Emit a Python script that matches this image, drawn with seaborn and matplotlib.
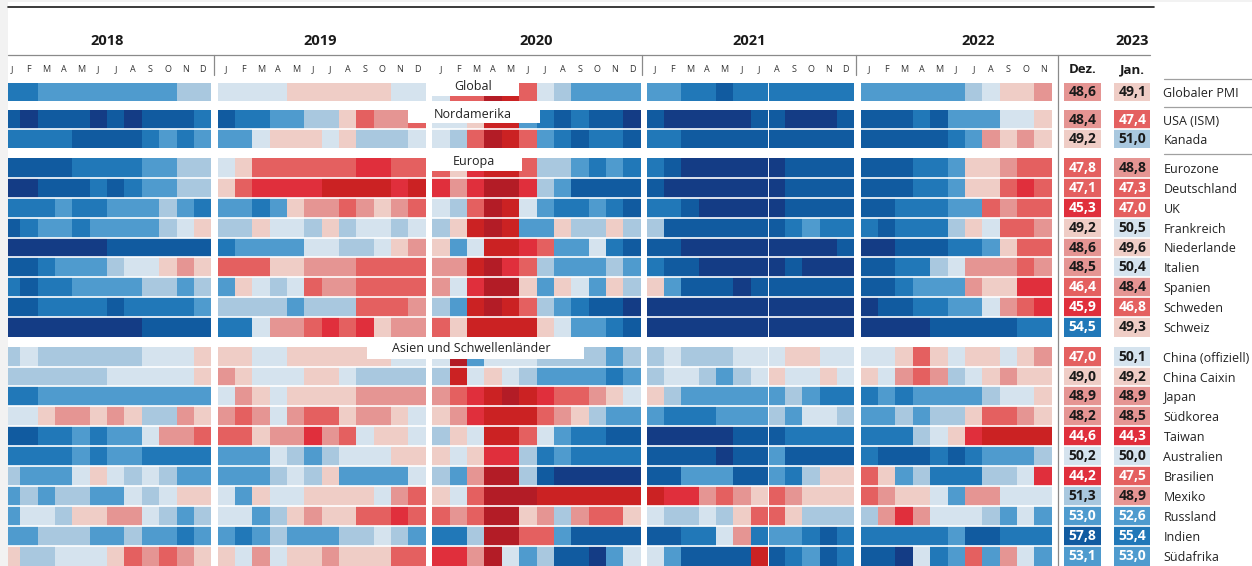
import numpy as np
import seaborn as sns
import matplotlib.pyplot as plt
from matplotlib.colors import ListedColormap, BoundaryNorm
from matplotlib.lines import Line2D
from matplotlib.patches import Rectangle

W, H = 1252, 566

sns.set_theme(style="white")
plt.rcParams['font.family'] = ['Open Sans', 'DejaVu Sans']

countries = ["Globaler PMI", "USA (ISM)", "Kanada", "Eurozone", "Deutschland", "UK", "Frankreich",
             "Niederlande", "Italien", "Spanien", "Schweden", "Schweiz", "China (offiziell)",
             "China Caixin", "Japan", "Südkorea", "Taiwan", "Australien", "Brasilien", "Mexiko",
             "Russland", "Indien", "Südafrika"]
years = ["2018", "2019", "2020", "2021", "2022"]
months = list("JFMAMJJASOND")

# geschaetzte PMI-Werte je Monat, Zeilen wie in countries
pmi_2018 = [
    [55, 55, 53, 53, 53, 53, 53, 53, 53, 53, 51.5, 51.5],
    [58, 62, 58, 58, 58, 62, 58, 62, 58, 58, 58, 55],
    [55, 55, 55, 55, 58, 58, 58, 58, 55, 53, 55, 53],
    [58, 58, 58, 58, 55, 55, 55, 55, 53, 53, 51.5, 51.5],
    [62, 62, 58, 58, 58, 55, 58, 55, 53, 53, 51.5, 51.5],
    [55, 55, 55, 53, 55, 55, 53, 53, 53, 51.5, 53, 55],
    [58, 55, 53, 53, 55, 53, 53, 53, 53, 51.5, 50.5, 49.5],
    [62, 62, 62, 62, 62, 62, 58, 58, 58, 58, 58, 58],
    [58, 58, 55, 53, 53, 53, 51.5, 50.5, 50.5, 49.5, 48.5, 49.5],
    [55, 58, 55, 55, 53, 53, 53, 53, 51.5, 51.5, 53, 51.5],
    [58, 58, 55, 55, 55, 55, 58, 55, 55, 55, 55, 53],
    [62, 62, 62, 62, 62, 62, 62, 62, 58, 58, 58, 58],
    [51.5, 50.5, 51.5, 51.5, 51.5, 51.5, 51.5, 51.5, 50.5, 50.5, 50.5, 49.5],
    [51.5, 51.5, 51.5, 51.5, 51.5, 51.5, 50.5, 50.5, 50.5, 50.5, 50.5, 49.5],
    [55, 55, 53, 53, 53, 53, 53, 53, 53, 53, 53, 53],
    [50.5, 50.5, 49.5, 48.5, 48.5, 49.5, 48.5, 49.5, 51.5, 51.5, 48.5, 49.5],
    [58, 58, 55, 55, 53, 55, 53, 53, 50.5, 48.5, 48.5, 47],
    [55, 55, 55, 55, 53, 55, 53, 53, 55, 55, 55, 55],
    [51.5, 53, 53, 53, 50.5, 49.5, 50.5, 51.5, 50.5, 51.5, 53, 53],
    [53, 51.5, 53, 51.5, 51.5, 53, 53, 50.5, 51.5, 50.5, 49.5, 49.5],
    [53, 50.5, 50.5, 51.5, 49.5, 49.5, 48.5, 48.5, 50.5, 51.5, 53, 51.5],
    [53, 53, 51.5, 51.5, 51.5, 53, 53, 51.5, 53, 53, 55, 53],
    [49.5, 51.5, 51.5, 50.5, 50.5, 50.5, 49.5, 47, 48.5, 47, 48.5, 49.5],
]
pmi_2019 = [
    [50.5, 50.5, 50.5, 50.5, 49.5, 49.5, 49.5, 49.5, 49.5, 49.5, 50.5, 50.5],
    [58, 55, 55, 53, 53, 51.5, 51.5, 49.5, 47, 48.5, 48.5, 47],
    [53, 53, 50.5, 49.5, 49.5, 49.5, 50.5, 49.5, 51.5, 51.5, 51.5, 50.5],
    [50.5, 49.5, 47, 47, 47, 47, 47, 47, 45, 45, 47, 47],
    [49.5, 47, 45, 45, 45, 45, 42, 42, 42, 42, 45, 42],
    [53, 53, 55, 53, 49.5, 48.5, 48.5, 47, 48.5, 49.5, 48.5, 47],
    [51.5, 51.5, 49.5, 50.5, 50.5, 51.5, 49.5, 51.5, 50.5, 50.5, 51.5, 50.5],
    [55, 53, 53, 53, 53, 50.5, 50.5, 51.5, 51.5, 50.5, 49.5, 48.5],
    [47, 47, 47, 49.5, 49.5, 48.5, 48.5, 48.5, 47, 47, 47, 47],
    [53, 49.5, 50.5, 51.5, 50.5, 47, 48.5, 48.5, 47, 47, 47, 47],
    [51.5, 51.5, 51.5, 51.5, 53, 51.5, 51.5, 51.5, 47, 47, 47, 48.5],
    [55, 55, 50.5, 48.5, 48.5, 47, 45, 47, 45, 49.5, 48.5, 48.5],
    [49.5, 49.5, 50.5, 50.5, 49.5, 49.5, 49.5, 49.5, 49.5, 49.5, 50.5, 50.5],
    [48.5, 49.5, 50.5, 50.5, 50.5, 49.5, 49.5, 50.5, 51.5, 51.5, 51.5, 51.5],
    [50.5, 48.5, 49.5, 50.5, 49.5, 49.5, 49.5, 49.5, 48.5, 48.5, 48.5, 48.5],
    [48.5, 47, 48.5, 50.5, 48.5, 47, 47, 49.5, 48.5, 48.5, 49.5, 50.5],
    [47, 47, 49.5, 48.5, 48.5, 45, 48.5, 47, 50.5, 49.5, 49.5, 50.5],
    [53, 53, 53, 50.5, 51.5, 53, 51.5, 50.5, 50.5, 50.5, 49.5, 49.5],
    [53, 53, 53, 51.5, 50.5, 51.5, 49.5, 53, 53, 53, 53, 50.5],
    [50.5, 53, 49.5, 50.5, 50.5, 49.5, 49.5, 49.5, 49.5, 50.5, 48.5, 47],
    [50.5, 50.5, 53, 51.5, 49.5, 48.5, 49.5, 49.5, 47, 47, 45, 47],
    [53, 55, 53, 51.5, 53, 53, 53, 51.5, 51.5, 50.5, 51.5, 53],
    [49.5, 50.5, 48.5, 50.5, 49.5, 49.5, 48.5, 49.5, 49.5, 49.5, 47, 47],
]
pmi_2020 = [
    [50.5, 47, 47, 38, 42, 47, 50.5, 51.5, 53, 53, 53, 53],
    [50.5, 50.5, 49.5, 42, 42, 53, 55, 58, 55, 58, 58, 62],
    [50.5, 51.5, 47, 38, 42, 47, 53, 55, 58, 55, 55, 58],
    [47, 49.5, 45, 42, 42, 47, 51.5, 51.5, 53, 55, 53, 55],
    [45, 48.5, 45, 38, 38, 45, 51.5, 53, 58, 58, 58, 58],
    [50.5, 51.5, 47, 38, 42, 50.5, 53, 55, 55, 53, 55, 58],
    [51.5, 49.5, 42, 38, 42, 53, 53, 49.5, 51.5, 51.5, 49.5, 51.5],
    [49.5, 53, 50.5, 42, 42, 45, 47, 53, 53, 50.5, 55, 58],
    [48.5, 48.5, 42, 38, 45, 47, 51.5, 53, 53, 53, 51.5, 53],
    [48.5, 50.5, 45, 38, 38, 49.5, 53, 49.5, 50.5, 53, 49.5, 51.5],
    [51.5, 53, 42, 38, 42, 47, 51.5, 53, 55, 58, 58, 62],
    [47, 49.5, 42, 42, 42, 42, 49.5, 50.5, 53, 53, 55, 58],
    [50.5, 38, 53, 50.5, 50.5, 50.5, 51.5, 51.5, 51.5, 51.5, 53, 51.5],
    [51.5, 42, 50.5, 49.5, 50.5, 51.5, 53, 53, 53, 53, 55, 53],
    [48.5, 47, 45, 42, 38, 42, 45, 47, 47, 48.5, 49.5, 50.5],
    [49.5, 48.5, 45, 42, 42, 42, 47, 48.5, 49.5, 51.5, 53, 53],
    [51.5, 49.5, 50.5, 42, 42, 47, 50.5, 53, 55, 55, 58, 58],
    [49.5, 50.5, 49.5, 45, 45, 51.5, 55, 53, 55, 55, 55, 55],
    [51.5, 53, 48.5, 38, 38, 51.5, 58, 62, 62, 62, 62, 62],
    [49.5, 50.5, 47, 38, 38, 38, 42, 42, 42, 42, 42, 42],
    [47, 48.5, 47, 38, 38, 49.5, 48.5, 51.5, 48.5, 47, 47, 49.5],
    [55, 55, 51.5, 38, 38, 47, 47, 53, 58, 58, 58, 58],
    [45, 45, 48.5, 38, 50.5, 53, 51.5, 58, 58, 62, 53, 50.5],
]
pmi_2021 = [
    [53, 53, 55, 55, 58, 55, 55, 55, 55, 55, 55, 55],
    [58, 62, 62, 62, 62, 62, 58, 58, 62, 62, 62, 58],
    [55, 55, 58, 58, 58, 58, 58, 58, 58, 58, 58, 58],
    [55, 58, 62, 62, 62, 62, 62, 62, 58, 58, 58, 58],
    [58, 62, 62, 62, 62, 62, 62, 62, 58, 58, 58, 58],
    [55, 55, 58, 62, 62, 62, 62, 62, 58, 58, 58, 58],
    [51.5, 58, 58, 58, 58, 58, 58, 58, 55, 53, 55, 55],
    [58, 58, 62, 62, 62, 62, 62, 62, 62, 62, 62, 58],
    [55, 58, 58, 62, 62, 62, 62, 62, 58, 62, 62, 62],
    [49.5, 53, 58, 58, 58, 62, 58, 58, 58, 58, 58, 58],
    [62, 62, 62, 62, 62, 62, 62, 62, 62, 62, 62, 62],
    [62, 62, 62, 62, 62, 62, 62, 62, 62, 62, 62, 62],
    [51.5, 50.5, 51.5, 51.5, 51.5, 50.5, 50.5, 50.5, 49.5, 49.5, 50.5, 50.5],
    [51.5, 50.5, 50.5, 51.5, 53, 51.5, 50.5, 49.5, 50.5, 50.5, 49.5, 50.5],
    [49.5, 51.5, 53, 53, 53, 53, 53, 53, 51.5, 53, 55, 55],
    [53, 55, 55, 55, 53, 53, 53, 51.5, 53, 50.5, 50.5, 51.5],
    [62, 62, 62, 62, 62, 58, 58, 58, 55, 55, 55, 55],
    [58, 58, 58, 58, 62, 58, 58, 53, 58, 58, 58, 58],
    [58, 58, 53, 53, 53, 58, 58, 53, 55, 51.5, 49.5, 49.5],
    [42, 45, 45, 48.5, 47, 48.5, 49.5, 47, 48.5, 49.5, 49.5, 49.5],
    [50.5, 51.5, 51.5, 50.5, 51.5, 49.5, 47, 47, 49.5, 51.5, 51.5, 51.5],
    [58, 58, 55, 55, 50.5, 48.5, 55, 53, 53, 55, 58, 55],
    [50.5, 53, 58, 58, 58, 58, 42, 58, 55, 53, 58, 55],
]
pmi_2022 = [
    [53, 53, 53, 53, 53, 53, 51.5, 50.5, 49.5, 49.5, 48.5],
    [58, 58, 58, 55, 58, 53, 53, 53, 50.5, 50.5, 49.5],
    [58, 58, 58, 58, 58, 55, 53, 48.5, 49.5, 48.5, 49.5],
    [58, 58, 58, 55, 55, 53, 49.5, 49.5, 48.5, 47, 47],
    [58, 58, 58, 55, 55, 53, 49.5, 49.5, 47, 45, 47],
    [58, 58, 55, 55, 55, 53, 53, 47, 48.5, 47, 47],
    [55, 58, 55, 55, 55, 51.5, 49.5, 50.5, 47, 47, 48.5],
    [62, 62, 58, 58, 58, 55, 55, 53, 49.5, 47, 47],
    [58, 58, 55, 55, 51.5, 50.5, 48.5, 48.5, 48.5, 47, 48.5],
    [58, 58, 55, 53, 53, 53, 48.5, 49.5, 49.5, 45, 45],
    [62, 58, 58, 55, 55, 53, 53, 50.5, 48.5, 47, 45],
    [62, 62, 62, 62, 58, 58, 58, 58, 58, 55, 55],
    [50.5, 50.5, 49.5, 47, 49.5, 50.5, 49.5, 49.5, 50.5, 49.5, 48.5],
    [49.5, 50.5, 48.5, 47, 48.5, 51.5, 50.5, 49.5, 48.5, 49.5, 49.5],
    [55, 53, 55, 53, 53, 53, 53, 51.5, 50.5, 50.5, 49.5],
    [53, 53, 51.5, 53, 51.5, 51.5, 49.5, 47, 47, 48.5, 49.5],
    [55, 55, 55, 51.5, 50.5, 49.5, 45, 42, 42, 42, 42],
    [55, 58, 58, 58, 55, 58, 55, 53, 53, 53, 51.5],
    [47, 49.5, 53, 51.5, 55, 55, 55, 51.5, 51.5, 50.5, 45],
    [47, 48.5, 49.5, 49.5, 50.5, 53, 48.5, 48.5, 50.5, 50.5, 50.5],
    [51.5, 48.5, 45, 48.5, 50.5, 50.5, 50.5, 51.5, 53, 50.5, 53],
    [55, 55, 55, 55, 55, 53, 58, 58, 55, 55, 55],
    [58, 58, 62, 50.5, 55, 53, 47, 53, 48.5, 50.5, 53],
]
pmi_dez = [48.6, 48.4, 49.2, 47.8, 47.1, 45.3, 49.2, 48.6, 48.5, 46.4, 45.9, 54.5,
           47.0, 49.0, 48.9, 48.2, 44.6, 50.2, 44.2, 51.3, 53.0, 57.8, 53.1]
pmi_jan = [49.1, 47.4, 51.0, 48.8, 47.3, 47.0, 50.5, 49.6, 50.4, 48.4, 46.8, 49.3,
           50.1, 49.2, 48.9, 48.5, 44.3, 50.0, 47.5, 48.9, 52.6, 55.4, 53.0]

colors = ["#b31c26", "#cb2223", "#e02f3c", "#e46060", "#e59593", "#efcdc6",
          "#d5e3ee", "#a9c8df", "#4f9bce", "#2178b8", "#115ba0", "#143c85"]
bins = [30, 40, 44, 46, 48, 49, 50, 51, 52, 54, 56, 60, 70]
cmap = ListedColormap(colors)
norm = BoundaryNorm(bins, cmap.N)

# (erste Zeile, letzte Zeile + 1, y oben, y unten) in Pixeln
groups = [(0, 1, 82.7, 101.3), (1, 3, 110, 148.3), (3, 12, 158, 337), (12, 23, 346.7, 565.5)]
# (Daten, x links, x rechts)
panels = [(pmi_2018, 8, 211.3), (pmi_2019, 217.7, 425.7), (pmi_2020, 432.3, 640.7),
          (pmi_2021, 646.7, 854.3), (pmi_2022, 860.7, 1051.7)]

fig = plt.figure(figsize=(W / 100, H / 100), dpi=100)


def add_ax(x0, y0, x1, y1):
    return fig.add_axes([x0 / W, 1 - y1 / H, (x1 - x0) / W, (y1 - y0) / H])


def fig_line(x0, y0, x1, y1, color="#8a8a8a", lw=0.9):
    fig.add_artist(Line2D([x0 / W, x1 / W], [1 - y0 / H, 1 - y1 / H], color=color, lw=lw, zorder=6))


def fig_box(x0, y0, x1, y1, color="white"):
    fig.add_artist(Rectangle((x0 / W, 1 - y1 / H), (x1 - x0) / W, (y1 - y0) / H, color=color,
                             lw=0, transform=fig.transFigure, zorder=5))


def style_top(ax, **kw):
    ax.tick_params(top=False, labeltop=True, bottom=False, labelbottom=False, left=False, length=0, **kw)


for first, last, y0, y1 in groups:
    for p, (values, x0, x1) in enumerate(panels):
        ax = add_ax(x0, y0, x1, y1)
        block = np.array(values[first:last])
        labels = months[:block.shape[1]] if first == 0 else False
        sns.heatmap(block, ax=ax, cmap=cmap, norm=norm, cbar=False, xticklabels=labels, yticklabels=False)
        ax.hlines(range(1, last - first), 0, block.shape[1], color="white", lw=1.2)
        if p == 0:
            ax.set_xlim(0.3, 12)
        if p == 3:
            ax.axvline(7, color="white", lw=0.7)
        if first == 0:
            style_top(ax, pad=6, labelsize=6.5, labelcolor="#333333", rotation=0)

    # Dez. und Jan.
    for name, values, x0, x1 in [("Dez.", pmi_dez, 1064.3, 1100.7), ("Jan.", pmi_jan, 1114.3, 1150.3)]:
        ax = add_ax(x0, y0, x1, y1)
        block = np.array(values[first:last]).reshape(-1, 1)
        text = np.array([[f"{v:.1f}".replace(".", ",")] for v in values[first:last]])
        sns.heatmap(block, ax=ax, cmap=cmap, norm=norm, cbar=False, annot=text, fmt="",
                    annot_kws={"fontsize": 10, "fontweight": "bold"},
                    xticklabels=[name] if first == 0 else False,
                    yticklabels=countries[first:last] if name == "Jan." else False)
        ax.hlines(range(1, last - first), 0, 1, color="white", lw=1.2)
        for t, v in zip(ax.texts, values[first:last]):
            t.set_color("white" if v < 48 or v >= 52 else "#1a1a1a")
        if first == 0:
            style_top(ax, pad=4.5, rotation=0)
            for t in ax.get_xticklabels():
                t.set_fontsize(9.5)
                t.set_fontweight("bold")
                t.set_color("#1a1a1a")
        if name == "Jan.":
            ax.yaxis.tick_right()
            ax.tick_params(axis="y", right=False, length=0, pad=9.5, labelsize=9, labelcolor="#222222", rotation=0)

# Kopfzeile
for label, x in zip(years + ["2023"], [107, 320, 536, 749, 978, 1132]):
    fig.text(x / W, 1 - 41 / H, label, ha="center", va="center", fontsize=10.5, fontweight="bold", color="#1a1a1a")

fig_line(8, 6.5, 1154, 6.5, color="#1a1a1a", lw=1.2)
fig_line(8, 55, 1150, 55)
for x in [213.5, 641.7, 855.7]:
    fig_line(x, 55, x, 75)
fig_line(1058.3, 55, 1058.3, 566)
for y in [79, 106.7, 154]:
    fig_line(1164, y, 1252, y, color="#a0a0a0")

# Regionen
fig_box(432.3, 80, 519.3, 96)
fig_box(408, 108, 540, 123.3)
fig_box(432.3, 156, 521.7, 171)
fig_box(366.7, 344, 584, 359)
for label, x, y in [("Global", 473, 86), ("Nordamerika", 472.7, 114), ("Europa", 474, 161),
                    ("Asien und Schwellenländer", 471, 348.5)]:
    fig.text(x / W, 1 - y / H, label, ha="center", va="center", fontsize=9, color="#222222", zorder=7)

# grauer Rand des Scans
fig_box(0, 0, 7.5, H, color="#f2f2f2")
fig_box(0, 0, W, 2, color="#f2f2f2")

fig.savefig("out.png", dpi=100)
